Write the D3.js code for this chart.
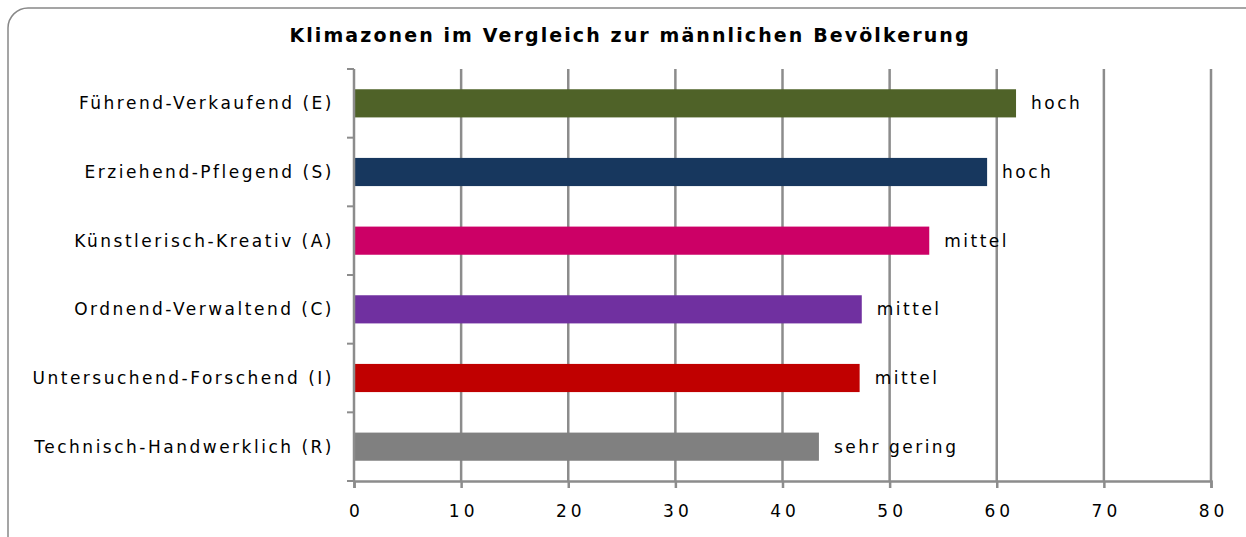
<!DOCTYPE html>
<html>
<head>
<meta charset="utf-8">
<script src="https://cdn.jsdelivr.net/npm/d3@7"></script>
<style>
  body { margin: 0; background: #fff; }
  text { font-family: "DejaVu Sans", sans-serif; }
</style>
</head>
<body>
<script>
const categories = ["Führend-Verkaufend (E)", "Erziehend-Pflegend (S)", "Künstlerisch-Kreativ (A)",
                    "Ordnend-Verwaltend (C)", "Untersuchend-Forschend (I)", "Technisch-Handwerklich (R)"];
const values = [61.8, 59.1, 53.7, 47.4, 47.2, 43.4];
const levels = ["hoch", "hoch", "mittel", "mittel", "mittel", "sehr gering"];
const colors = ["#4f6228", "#17375e", "#cc0066", "#7030a0", "#c00000", "#808080"];
const xTicks = [0, 10, 20, 30, 40, 50, 60, 70, 80];

const width = 1246;
const height = 537;
const marginTop = 69;
const marginRight = 35;
const marginBottom = 56;
const marginLeft = 354;

const svg = d3.create("svg")
  .attr("width", width)
  .attr("height", height)
  .attr("viewBox", [0, 0, width, height]);

// outer frame
svg.append("rect")
  .attr("x", 8).attr("y", 8)
  .attr("width", width + 20).attr("height", height + 20)
  .attr("rx", 20).attr("ry", 20)
  .attr("fill", "#fff")
  .attr("stroke", "#888")
  .attr("stroke-width", 1.5);

svg.append("text")
  .attr("x", 630).attr("y", 42)
  .attr("text-anchor", "middle")
  .attr("font-size", 19)
  .attr("font-weight", "bold")
  .attr("letter-spacing", 2.1)
  .text("Klimazonen im Vergleich zur männlichen Bevölkerung");

const x = d3.scaleLinear()
  .domain([0, 80])
  .range([marginLeft, width - marginRight]);

const y = d3.scaleBand()
  .domain(categories)
  .range([marginTop, height - marginBottom])
  .paddingInner(0.59)
  .paddingOuter(0.295);

// gridlines
svg.append("g")
  .selectAll("line")
  .data(xTicks.slice(1))
  .join("line")
  .attr("x1", d => x(d)).attr("x2", d => x(d))
  .attr("y1", marginTop).attr("y2", height - marginBottom)
  .attr("stroke", "#8c8c8c")
  .attr("stroke-width", 2.5);

// bars
svg.append("g")
  .selectAll("rect")
  .data(categories)
  .join("rect")
  .attr("x", x(0))
  .attr("y", d => y(d))
  .attr("width", (d, i) => x(values[i]) - x(0))
  .attr("height", y.bandwidth())
  .attr("fill", (d, i) => colors[i]);

// bar labels
svg.append("g")
  .selectAll("text")
  .data(categories)
  .join("text")
  .attr("x", (d, i) => x(values[i]) + 15)
  .attr("y", d => y(d) + y.bandwidth() / 2)
  .attr("dy", "0.35em")
  .attr("font-size", 17)
  .attr("letter-spacing", 2.5)
  .attr("fill", "#000")
  .text((d, i) => levels[i]);

// x axis
const xAxis = svg.append("g")
  .attr("transform", `translate(0,${height - marginBottom})`)
  .call(d3.axisBottom(x).tickValues(xTicks).tickSize(7).tickPadding(17));
xAxis.select(".domain").attr("stroke", "#8c8c8c").attr("stroke-width", 2.5);
xAxis.selectAll(".tick line").attr("stroke", "#8c8c8c").attr("stroke-width", 2.5);
xAxis.selectAll(".tick text")
  .attr("font-size", 17)
  .attr("letter-spacing", 4)
  .attr("dx", 2)
  .attr("fill", "#000")
  .attr("font-family", "\"DejaVu Sans\", sans-serif");

// y axis: ticks on category boundaries
const yAxisG = svg.append("g");
yAxisG.append("line")
  .attr("x1", x(0)).attr("x2", x(0))
  .attr("y1", marginTop).attr("y2", height - marginBottom)
  .attr("stroke", "#8c8c8c").attr("stroke-width", 2.5);
yAxisG.selectAll(".bound")
  .data(d3.range(categories.length + 1))
  .join("line")
  .attr("class", "bound")
  .attr("x1", x(0) - 7).attr("x2", x(0))
  .attr("y1", i => marginTop + i * (height - marginBottom - marginTop) / categories.length)
  .attr("y2", i => marginTop + i * (height - marginBottom - marginTop) / categories.length)
  .attr("stroke", "#8c8c8c").attr("stroke-width", 2);

yAxisG.selectAll(".cat")
  .data(categories)
  .join("text")
  .attr("class", "cat")
  .attr("x", x(0) - 20)
  .attr("y", d => y(d) + y.bandwidth() / 2)
  .attr("dy", "0.35em")
  .attr("text-anchor", "end")
  .attr("font-size", 17)
  .attr("letter-spacing", 2.5)
  .attr("fill", "#000")
  .text(d => d);

d3.select("body").append(() => svg.node());
</script>
</body>
</html>
